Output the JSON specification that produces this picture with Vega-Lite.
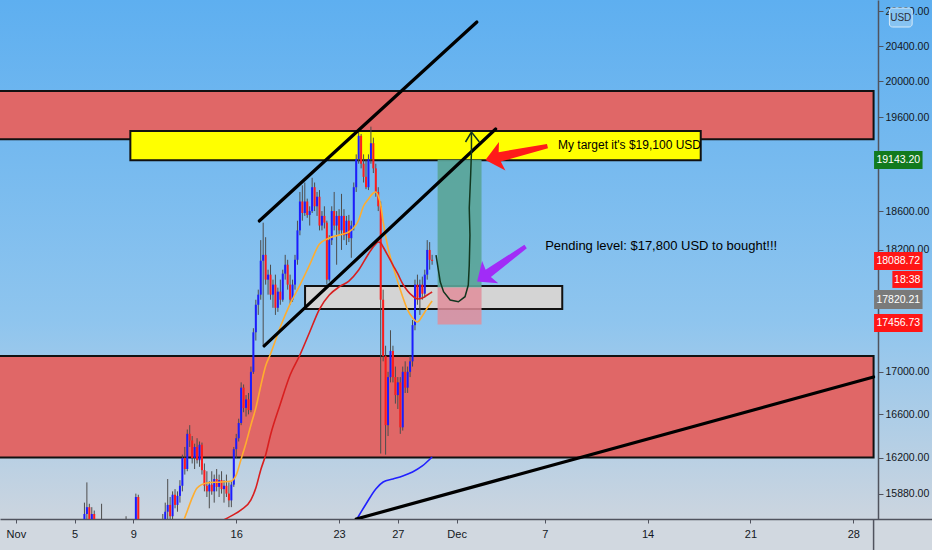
{
  "$schema": "https://vega.github.io/schema/vega-lite/v6.json",
  "width": 932,
  "height": 519,
  "autosize": {"type": "none"},
  "padding": {"left": 0, "top": 0, "right": 0, "bottom": 31},
  "background": "#d1d8e0",
  "config": {
    "font": "'Liberation Sans', Arial, sans-serif",
    "view": {"stroke": null, "fill": {"gradient": "linear", "x1": 0, "y1": 0, "x2": 0, "y2": 1, "stops": [{"offset": 0, "color": "#5eaff0"}, {"offset": 0.62, "color": "#8fc5ee"}, {"offset": 1, "color": "#ccd5df"}]}}
  },
  "datasets": {
    "zones": [
      {"t0": "2020-10-20T00:00Z", "t1": "2020-12-29T09:13Z", "p0": 19364, "p1": 19893},
      {"t0": "2020-10-20T00:00Z", "t1": "2020-12-29T09:13Z", "p0": 16204, "p1": 17151}
    ],
    "candles": [
      {"t": "2020-11-05T16:00Z", "o": 15620, "h": 15800, "l": 15500, "c": 15700},
      {"t": "2020-11-05T20:00Z", "o": 15700, "h": 15980, "l": 15600, "c": 15760},
      {"t": "2020-11-06T00:00Z", "o": 15760, "h": 15790, "l": 15620, "c": 15650},
      {"t": "2020-11-06T04:00Z", "o": 15650, "h": 15760, "l": 15580, "c": 15700},
      {"t": "2020-11-06T08:00Z", "o": 15700, "h": 15730, "l": 15500, "c": 15560},
      {"t": "2020-11-06T12:00Z", "o": 15560, "h": 15620, "l": 15400, "c": 15450},
      {"t": "2020-11-06T16:00Z", "o": 15450, "h": 15550, "l": 15300, "c": 15400},
      {"t": "2020-11-06T20:00Z", "o": 15400, "h": 15790, "l": 15350, "c": 15500},
      {"t": "2020-11-08T12:00Z", "o": 15450, "h": 15680, "l": 15400, "c": 15500},
      {"t": "2020-11-09T00:00Z", "o": 15500, "h": 15600, "l": 15400, "c": 15550},
      {"t": "2020-11-09T04:00Z", "o": 15550, "h": 15880, "l": 15450, "c": 15850},
      {"t": "2020-11-09T08:00Z", "o": 15850, "h": 15870, "l": 15500, "c": 15550},
      {"t": "2020-11-11T00:00Z", "o": 15550, "h": 15700, "l": 15500, "c": 15650},
      {"t": "2020-11-11T04:00Z", "o": 15650, "h": 15800, "l": 15600, "c": 15720},
      {"t": "2020-11-11T08:00Z", "o": 15720, "h": 16010, "l": 15650, "c": 15780},
      {"t": "2020-11-11T12:00Z", "o": 15780, "h": 15850, "l": 15600, "c": 15680},
      {"t": "2020-11-11T16:00Z", "o": 15680, "h": 15900, "l": 15650, "c": 15870},
      {"t": "2020-11-11T20:00Z", "o": 15870, "h": 15920, "l": 15750, "c": 15780},
      {"t": "2020-11-12T00:00Z", "o": 15780, "h": 15900, "l": 15720, "c": 15860},
      {"t": "2020-11-12T04:00Z", "o": 15860, "h": 16000, "l": 15800, "c": 15950},
      {"t": "2020-11-12T08:00Z", "o": 15950, "h": 16230, "l": 15900, "c": 16200},
      {"t": "2020-11-12T12:00Z", "o": 16200, "h": 16300, "l": 16050, "c": 16100},
      {"t": "2020-11-12T16:00Z", "o": 16100, "h": 16460, "l": 16080, "c": 16420},
      {"t": "2020-11-12T20:00Z", "o": 16420, "h": 16500, "l": 16300, "c": 16360},
      {"t": "2020-11-13T00:00Z", "o": 16360, "h": 16400, "l": 16150, "c": 16200},
      {"t": "2020-11-13T04:00Z", "o": 16200, "h": 16330, "l": 16100, "c": 16300},
      {"t": "2020-11-13T08:00Z", "o": 16300, "h": 16380, "l": 16150, "c": 16180},
      {"t": "2020-11-13T12:00Z", "o": 16180, "h": 16350, "l": 16120, "c": 16320},
      {"t": "2020-11-13T16:00Z", "o": 16320, "h": 16340, "l": 16050, "c": 16090},
      {"t": "2020-11-13T20:00Z", "o": 16090, "h": 16150, "l": 15900, "c": 15950},
      {"t": "2020-11-14T00:00Z", "o": 15950, "h": 16080, "l": 15850, "c": 15900},
      {"t": "2020-11-14T04:00Z", "o": 15900, "h": 15990, "l": 15750, "c": 15960},
      {"t": "2020-11-14T08:00Z", "o": 15960, "h": 16080, "l": 15870, "c": 15900},
      {"t": "2020-11-14T12:00Z", "o": 15900, "h": 16050, "l": 15800, "c": 16010},
      {"t": "2020-11-14T16:00Z", "o": 16010, "h": 16100, "l": 15900, "c": 15940},
      {"t": "2020-11-14T20:00Z", "o": 15940, "h": 16050, "l": 15850, "c": 16000},
      {"t": "2020-11-15T00:00Z", "o": 16000, "h": 16080, "l": 15880, "c": 15920},
      {"t": "2020-11-15T04:00Z", "o": 15920, "h": 16000, "l": 15800, "c": 15950},
      {"t": "2020-11-15T08:00Z", "o": 15950, "h": 16050, "l": 15850, "c": 15880},
      {"t": "2020-11-15T12:00Z", "o": 15880, "h": 15980, "l": 15760, "c": 15820},
      {"t": "2020-11-15T16:00Z", "o": 15820, "h": 15990, "l": 15760, "c": 15960},
      {"t": "2020-11-15T20:00Z", "o": 15960, "h": 16300, "l": 15940, "c": 16280},
      {"t": "2020-11-16T00:00Z", "o": 16280, "h": 16420, "l": 16200, "c": 16380},
      {"t": "2020-11-16T04:00Z", "o": 16380, "h": 16560, "l": 16350, "c": 16520},
      {"t": "2020-11-16T08:00Z", "o": 16520, "h": 16900, "l": 16500, "c": 16850},
      {"t": "2020-11-16T12:00Z", "o": 16850, "h": 16880, "l": 16620, "c": 16660},
      {"t": "2020-11-16T16:00Z", "o": 16660, "h": 16780, "l": 16580, "c": 16740},
      {"t": "2020-11-16T20:00Z", "o": 16740, "h": 16800, "l": 16600, "c": 16640},
      {"t": "2020-11-17T00:00Z", "o": 16640, "h": 17050, "l": 16620, "c": 17000},
      {"t": "2020-11-17T04:00Z", "o": 17000, "h": 17420, "l": 16980, "c": 17380},
      {"t": "2020-11-17T08:00Z", "o": 17380, "h": 17700, "l": 17300, "c": 17650},
      {"t": "2020-11-17T12:00Z", "o": 17650, "h": 17800, "l": 17550, "c": 17750},
      {"t": "2020-11-17T16:00Z", "o": 17750, "h": 18300, "l": 17700, "c": 18090},
      {"t": "2020-11-17T20:00Z", "o": 18090, "h": 18480, "l": 17250, "c": 18150},
      {"t": "2020-11-18T00:00Z", "o": 18150, "h": 18330, "l": 17850, "c": 17900},
      {"t": "2020-11-18T04:00Z", "o": 17900, "h": 18000, "l": 17750, "c": 17950},
      {"t": "2020-11-18T08:00Z", "o": 17950, "h": 18050, "l": 17700, "c": 17750},
      {"t": "2020-11-18T12:00Z", "o": 17750, "h": 17900, "l": 17620, "c": 17850},
      {"t": "2020-11-18T16:00Z", "o": 17850, "h": 17950, "l": 17550, "c": 17620},
      {"t": "2020-11-18T20:00Z", "o": 17620, "h": 17820, "l": 17580, "c": 17780},
      {"t": "2020-11-19T00:00Z", "o": 17780, "h": 17900, "l": 17650, "c": 17700},
      {"t": "2020-11-19T04:00Z", "o": 17700, "h": 18000, "l": 17680, "c": 17960},
      {"t": "2020-11-19T08:00Z", "o": 17960, "h": 18150, "l": 17900, "c": 18050},
      {"t": "2020-11-19T12:00Z", "o": 18050, "h": 18100, "l": 17800, "c": 17850},
      {"t": "2020-11-19T16:00Z", "o": 17850, "h": 17950, "l": 17650, "c": 17700},
      {"t": "2020-11-19T20:00Z", "o": 17700, "h": 17900, "l": 17680, "c": 17850},
      {"t": "2020-11-20T00:00Z", "o": 17850, "h": 18150, "l": 17800, "c": 18100},
      {"t": "2020-11-20T04:00Z", "o": 18100, "h": 18500, "l": 18050, "c": 18400},
      {"t": "2020-11-20T08:00Z", "o": 18400, "h": 18800, "l": 18350, "c": 18700},
      {"t": "2020-11-20T12:00Z", "o": 18700, "h": 18870, "l": 18500, "c": 18580},
      {"t": "2020-11-20T16:00Z", "o": 18580, "h": 18900, "l": 18550, "c": 18700},
      {"t": "2020-11-20T20:00Z", "o": 18700, "h": 18730, "l": 18530, "c": 18560},
      {"t": "2020-11-21T00:00Z", "o": 18560, "h": 18650, "l": 18450, "c": 18600},
      {"t": "2020-11-21T04:00Z", "o": 18600, "h": 18950, "l": 18580, "c": 18850},
      {"t": "2020-11-21T08:00Z", "o": 18850, "h": 18900, "l": 18600, "c": 18650},
      {"t": "2020-11-21T12:00Z", "o": 18650, "h": 18800, "l": 18550, "c": 18750},
      {"t": "2020-11-21T16:00Z", "o": 18750, "h": 18820, "l": 18400, "c": 18450},
      {"t": "2020-11-21T20:00Z", "o": 18450, "h": 18600, "l": 18400, "c": 18550},
      {"t": "2020-11-22T00:00Z", "o": 18550, "h": 18650, "l": 18420, "c": 18480},
      {"t": "2020-11-22T04:00Z", "o": 18480, "h": 18500, "l": 17850, "c": 17900},
      {"t": "2020-11-22T08:00Z", "o": 17900, "h": 18350, "l": 17880, "c": 18300},
      {"t": "2020-11-22T12:00Z", "o": 18300, "h": 18650, "l": 18250, "c": 18600},
      {"t": "2020-11-22T16:00Z", "o": 18600, "h": 18800, "l": 18400, "c": 18450},
      {"t": "2020-11-22T20:00Z", "o": 18450, "h": 18600, "l": 18050, "c": 18550},
      {"t": "2020-11-23T00:00Z", "o": 18550, "h": 18620, "l": 18350, "c": 18400},
      {"t": "2020-11-23T04:00Z", "o": 18400, "h": 18780, "l": 18200, "c": 18550},
      {"t": "2020-11-23T08:00Z", "o": 18550, "h": 18620, "l": 18300, "c": 18350},
      {"t": "2020-11-23T12:00Z", "o": 18350, "h": 18550, "l": 18250, "c": 18500},
      {"t": "2020-11-23T16:00Z", "o": 18500, "h": 18560, "l": 18280, "c": 18320},
      {"t": "2020-11-23T20:00Z", "o": 18320, "h": 18500, "l": 18120, "c": 18450},
      {"t": "2020-11-24T00:00Z", "o": 18450, "h": 18900, "l": 18400, "c": 18850},
      {"t": "2020-11-24T04:00Z", "o": 18850, "h": 19200, "l": 18800, "c": 19150},
      {"t": "2020-11-24T08:00Z", "o": 19150, "h": 19480, "l": 19100, "c": 19400},
      {"t": "2020-11-24T12:00Z", "o": 19400, "h": 19420, "l": 19050, "c": 19100},
      {"t": "2020-11-24T16:00Z", "o": 19100, "h": 19200, "l": 18900, "c": 18960},
      {"t": "2020-11-24T20:00Z", "o": 18960, "h": 19150, "l": 18830, "c": 18850},
      {"t": "2020-11-25T00:00Z", "o": 18850, "h": 19200, "l": 18820, "c": 19150},
      {"t": "2020-11-25T04:00Z", "o": 19150, "h": 19500, "l": 19100, "c": 19320},
      {"t": "2020-11-25T08:00Z", "o": 19320, "h": 19380, "l": 19000, "c": 19050},
      {"t": "2020-11-25T12:00Z", "o": 19050, "h": 19100, "l": 18750, "c": 18800},
      {"t": "2020-11-25T16:00Z", "o": 18800, "h": 18850, "l": 18600, "c": 18650},
      {"t": "2020-11-25T20:00Z", "o": 18650, "h": 18700, "l": 16240, "c": 17700},
      {"t": "2020-11-26T00:00Z", "o": 17700, "h": 17800, "l": 17100, "c": 17150},
      {"t": "2020-11-26T04:00Z", "o": 17150, "h": 17250, "l": 16230, "c": 16500},
      {"t": "2020-11-26T08:00Z", "o": 16500, "h": 17000, "l": 16400, "c": 16950},
      {"t": "2020-11-26T12:00Z", "o": 16950, "h": 17400, "l": 16900, "c": 17200},
      {"t": "2020-11-26T16:00Z", "o": 17200, "h": 17250, "l": 16900, "c": 16950},
      {"t": "2020-11-26T20:00Z", "o": 16950, "h": 17050, "l": 16700, "c": 16780},
      {"t": "2020-11-27T00:00Z", "o": 16780, "h": 16950, "l": 16650, "c": 16900},
      {"t": "2020-11-27T04:00Z", "o": 16900, "h": 16950, "l": 16420, "c": 16480},
      {"t": "2020-11-27T08:00Z", "o": 16480, "h": 17050, "l": 16450, "c": 17000},
      {"t": "2020-11-27T12:00Z", "o": 17000, "h": 17100, "l": 16800, "c": 16850},
      {"t": "2020-11-27T16:00Z", "o": 16850, "h": 17050, "l": 16800, "c": 17000},
      {"t": "2020-11-27T20:00Z", "o": 17000, "h": 17150, "l": 16950, "c": 17100},
      {"t": "2020-11-28T00:00Z", "o": 17100, "h": 17500, "l": 17050, "c": 17450},
      {"t": "2020-11-28T04:00Z", "o": 17450, "h": 17900, "l": 17400, "c": 17850},
      {"t": "2020-11-28T08:00Z", "o": 17850, "h": 17950, "l": 17650, "c": 17720},
      {"t": "2020-11-28T12:00Z", "o": 17720, "h": 17900, "l": 17550, "c": 17850},
      {"t": "2020-11-28T16:00Z", "o": 17850, "h": 17930, "l": 17700, "c": 17760},
      {"t": "2020-11-28T20:00Z", "o": 17760, "h": 18000, "l": 17720, "c": 17950},
      {"t": "2020-11-29T00:00Z", "o": 17950, "h": 18300, "l": 17900, "c": 18200},
      {"t": "2020-11-29T04:00Z", "o": 18200, "h": 18280, "l": 18000, "c": 18100},
      {"t": "2020-11-29T08:00Z", "o": 18100, "h": 18150, "l": 18050, "c": 18088.72}
    ],
    "ma": [
      {"ma": "fast", "t": "2020-11-12T08:00Z", "p": 15612},
      {"ma": "fast", "t": "2020-11-12T16:00Z", "p": 15727},
      {"ma": "fast", "t": "2020-11-13T00:00Z", "p": 15842},
      {"ma": "fast", "t": "2020-11-13T08:00Z", "p": 15930},
      {"ma": "fast", "t": "2020-11-14T00:00Z", "p": 15975},
      {"ma": "fast", "t": "2020-11-15T00:00Z", "p": 15984},
      {"ma": "fast", "t": "2020-11-15T16:00Z", "p": 15993},
      {"ma": "fast", "t": "2020-11-16T00:00Z", "p": 16047},
      {"ma": "fast", "t": "2020-11-16T08:00Z", "p": 16191},
      {"ma": "fast", "t": "2020-11-16T16:00Z", "p": 16337},
      {"ma": "fast", "t": "2020-11-17T00:00Z", "p": 16502},
      {"ma": "fast", "t": "2020-11-17T08:00Z", "p": 16660},
      {"ma": "fast", "t": "2020-11-17T16:00Z", "p": 16866},
      {"ma": "fast", "t": "2020-11-18T00:00Z", "p": 17056},
      {"ma": "fast", "t": "2020-11-18T08:00Z", "p": 17171},
      {"ma": "fast", "t": "2020-11-19T00:00Z", "p": 17432},
      {"ma": "fast", "t": "2020-11-19T16:00Z", "p": 17658},
      {"ma": "fast", "t": "2020-11-20T08:00Z", "p": 17846},
      {"ma": "fast", "t": "2020-11-21T00:00Z", "p": 18050},
      {"ma": "fast", "t": "2020-11-21T16:00Z", "p": 18260},
      {"ma": "fast", "t": "2020-11-22T08:00Z", "p": 18322},
      {"ma": "fast", "t": "2020-11-23T00:00Z", "p": 18353},
      {"ma": "fast", "t": "2020-11-23T16:00Z", "p": 18384},
      {"ma": "fast", "t": "2020-11-24T08:00Z", "p": 18507},
      {"ma": "fast", "t": "2020-11-24T16:00Z", "p": 18653},
      {"ma": "fast", "t": "2020-11-25T00:00Z", "p": 18726},
      {"ma": "fast", "t": "2020-11-25T08:00Z", "p": 18789},
      {"ma": "fast", "t": "2020-11-25T12:00Z", "p": 18800},
      {"ma": "fast", "t": "2020-11-25T16:00Z", "p": 18758},
      {"ma": "fast", "t": "2020-11-25T20:00Z", "p": 18663},
      {"ma": "fast", "t": "2020-11-26T00:00Z", "p": 18487},
      {"ma": "fast", "t": "2020-11-26T08:00Z", "p": 18220},
      {"ma": "fast", "t": "2020-11-26T16:00Z", "p": 18037},
      {"ma": "fast", "t": "2020-11-27T00:00Z", "p": 17876},
      {"ma": "fast", "t": "2020-11-27T08:00Z", "p": 17727},
      {"ma": "fast", "t": "2020-11-27T16:00Z", "p": 17599},
      {"ma": "fast", "t": "2020-11-28T00:00Z", "p": 17520},
      {"ma": "fast", "t": "2020-11-28T08:00Z", "p": 17481},
      {"ma": "fast", "t": "2020-11-28T16:00Z", "p": 17540},
      {"ma": "fast", "t": "2020-11-29T00:00Z", "p": 17618},
      {"ma": "fast", "t": "2020-11-29T08:00Z", "p": 17687},
      {"ma": "slow", "t": "2020-11-15T00:00Z", "p": 15638},
      {"ma": "slow", "t": "2020-11-15T16:00Z", "p": 15683},
      {"ma": "slow", "t": "2020-11-16T08:00Z", "p": 15736},
      {"ma": "slow", "t": "2020-11-17T00:00Z", "p": 15824},
      {"ma": "slow", "t": "2020-11-17T08:00Z", "p": 15930},
      {"ma": "slow", "t": "2020-11-17T16:00Z", "p": 16092},
      {"ma": "slow", "t": "2020-11-18T00:00Z", "p": 16227},
      {"ma": "slow", "t": "2020-11-18T08:00Z", "p": 16410},
      {"ma": "slow", "t": "2020-11-19T00:00Z", "p": 16697},
      {"ma": "slow", "t": "2020-11-19T16:00Z", "p": 16970},
      {"ma": "slow", "t": "2020-11-20T08:00Z", "p": 17161},
      {"ma": "slow", "t": "2020-11-21T00:00Z", "p": 17383},
      {"ma": "slow", "t": "2020-11-21T16:00Z", "p": 17608},
      {"ma": "slow", "t": "2020-11-22T08:00Z", "p": 17747},
      {"ma": "slow", "t": "2020-11-23T00:00Z", "p": 17827},
      {"ma": "slow", "t": "2020-11-23T16:00Z", "p": 17886},
      {"ma": "slow", "t": "2020-11-24T08:00Z", "p": 17997},
      {"ma": "slow", "t": "2020-11-25T00:00Z", "p": 18159},
      {"ma": "slow", "t": "2020-11-25T12:00Z", "p": 18261},
      {"ma": "slow", "t": "2020-11-25T16:00Z", "p": 18281},
      {"ma": "slow", "t": "2020-11-25T20:00Z", "p": 18271},
      {"ma": "slow", "t": "2020-11-26T00:00Z", "p": 18230},
      {"ma": "slow", "t": "2020-11-26T08:00Z", "p": 18139},
      {"ma": "slow", "t": "2020-11-26T16:00Z", "p": 18047},
      {"ma": "slow", "t": "2020-11-27T00:00Z", "p": 17957},
      {"ma": "slow", "t": "2020-11-27T08:00Z", "p": 17857},
      {"ma": "slow", "t": "2020-11-27T16:00Z", "p": 17787},
      {"ma": "slow", "t": "2020-11-28T00:00Z", "p": 17737},
      {"ma": "slow", "t": "2020-11-28T08:00Z", "p": 17707},
      {"ma": "slow", "t": "2020-11-28T16:00Z", "p": 17717},
      {"ma": "slow", "t": "2020-11-29T00:00Z", "p": 17747},
      {"ma": "slow", "t": "2020-11-29T08:00Z", "p": 17777},
      {"ma": "long", "t": "2020-11-24T04:00Z", "p": 15647},
      {"ma": "long", "t": "2020-11-24T20:00Z", "p": 15788},
      {"ma": "long", "t": "2020-11-25T12:00Z", "p": 15922},
      {"ma": "long", "t": "2020-11-26T00:00Z", "p": 15984},
      {"ma": "long", "t": "2020-11-26T16:00Z", "p": 16011},
      {"ma": "long", "t": "2020-11-27T08:00Z", "p": 16038},
      {"ma": "long", "t": "2020-11-28T00:00Z", "p": 16074},
      {"ma": "long", "t": "2020-11-28T16:00Z", "p": 16128},
      {"ma": "long", "t": "2020-11-29T08:00Z", "p": 16209}
    ],
    "trend": [
      {"id": "channel top", "t": "2020-11-17T13:35Z", "p": 18497},
      {"id": "channel top", "t": "2020-12-02T09:07Z", "p": 20676},
      {"id": "channel bottom", "t": "2020-11-17T21:39Z", "p": 17248},
      {"id": "channel bottom", "t": "2020-12-03T15:50Z", "p": 19474},
      {"id": "support", "t": "2020-11-24T03:58Z", "p": 15656},
      {"id": "support", "t": "2020-12-29T09:13Z", "p": 16951}
    ],
    "sketch": [
      {"seg": "path", "i": 1, "t": "2020-11-29T14:23Z", "p": 18148},
      {"seg": "path", "i": 2, "t": "2020-11-29T16:58Z", "p": 18047},
      {"seg": "path", "i": 3, "t": "2020-11-29T21:20Z", "p": 17876},
      {"seg": "path", "i": 4, "t": "2020-11-30T02:40Z", "p": 17780},
      {"seg": "path", "i": 5, "t": "2020-11-30T13:29Z", "p": 17697},
      {"seg": "path", "i": 6, "t": "2020-12-01T02:54Z", "p": 17680},
      {"seg": "path", "i": 7, "t": "2020-12-01T13:44Z", "p": 17730},
      {"seg": "path", "i": 8, "t": "2020-12-01T19:05Z", "p": 17846},
      {"seg": "path", "i": 9, "t": "2020-12-01T20:41Z", "p": 18047},
      {"seg": "path", "i": 10, "t": "2020-12-01T21:49Z", "p": 18353},
      {"seg": "path", "i": 11, "t": "2020-12-01T20:41Z", "p": 18632},
      {"seg": "path", "i": 12, "t": "2020-12-01T22:57Z", "p": 18979},
      {"seg": "path", "i": 13, "t": "2020-12-02T00:15Z", "p": 19225},
      {"seg": "path", "i": 14, "t": "2020-12-02T00:15Z", "p": 19430},
      {"seg": "head", "i": 1, "t": "2020-12-01T14:33Z", "p": 19333},
      {"seg": "head", "i": 2, "t": "2020-12-02T00:15Z", "p": 19441},
      {"seg": "head", "i": 3, "t": "2020-12-02T13:11Z", "p": 19333}
    ],
    "tags": [
      {"kind": "target", "t0": "2020-12-29T10:00Z", "t1": "2021-01-01T17:12Z", "p0": 19043, "p1": 19236, "tt": "2020-12-31T01:36Z", "p": 19143.2, "label": "19143.20"},
      {"kind": "last", "t0": "2020-12-29T10:00Z", "t1": "2021-01-01T17:12Z", "p0": 17997, "p1": 18179, "tt": "2020-12-31T01:36Z", "p": 18088.72, "label": "18088.72"},
      {"kind": "timer", "t0": "2020-12-30T15:55Z", "t1": "2021-01-01T17:12Z", "p0": 17817, "p1": 17987, "tt": "2020-12-31T16:09Z", "p": 17901, "label": "18:38"},
      {"kind": "entry", "t0": "2020-12-29T10:00Z", "t1": "2021-01-01T17:12Z", "p0": 17608, "p1": 17797, "tt": "2020-12-31T01:36Z", "p": 17702, "label": "17820.21"},
      {"kind": "stop", "t0": "2020-12-29T10:00Z", "t1": "2021-01-01T17:12Z", "p0": 17383, "p1": 17559, "tt": "2020-12-31T01:36Z", "p": 17471, "label": "17456.73"}
    ]
  },
  "layer": [
    {
      "data": {"name": "zones"},
      "mark": {"type": "rect", "fill": "#e06767", "stroke": "#111111", "strokeWidth": 2, "clip": true},
      "encoding": {
        "x": {
          "field": "t0", "type": "temporal",
          "scale": {"type": "utc", "nice": false, "domain": [{"year": 2020, "month": 10, "date": 31, "hours": 6, "minutes": 13, "utc": true}, {"year": 2021, "month": 1, "date": 2, "hours": 0, "minutes": 29, "utc": true}]},
          "axis": {
            "orient": "bottom", "title": null, "grid": false,
            "values": [
              {"year": 2020, "month": 11, "date": 1, "utc": true},
              {"year": 2020, "month": 11, "date": 5, "utc": true},
              {"year": 2020, "month": 11, "date": 9, "utc": true},
              {"year": 2020, "month": 11, "date": 16, "utc": true},
              {"year": 2020, "month": 11, "date": 23, "utc": true},
              {"year": 2020, "month": 11, "date": 27, "utc": true},
              {"year": 2020, "month": 12, "date": 1, "utc": true},
              {"year": 2020, "month": 12, "date": 7, "utc": true},
              {"year": 2020, "month": 12, "date": 14, "utc": true},
              {"year": 2020, "month": 12, "date": 21, "utc": true},
              {"year": 2020, "month": 12, "date": 28, "utc": true}
            ],
            "labelExpr": "utcdate(datum.value) == 1 ? utcFormat(datum.value, '%b') : utcFormat(datum.value, '%-d')",
            "labelFontSize": 11, "labelColor": "#131722",
            "labelPadding": 5, "labelFlush": false, "labelOverlap": false,
            "tickSize": 4, "tickColor": "#50535e", "domainColor": "#50535e", "domainWidth": 1.5
          }
        },
        "x2": {"field": "t1"},
        "y": {
          "field": "p0", "type": "quantitative",
          "scale": {"type": "log", "domain": [15656, 20932], "nice": false},
          "axis": {
            "orient": "right", "offset": -54, "title": null, "grid": false,
            "values": [20800, 20400, 20000, 19600, 18600, 18200, 17000, 16600, 16200, 15880],
            "format": ".2f",
            "labelFontSize": 10.5, "labelColor": "#131722",
            "labelPadding": 2, "tickSize": 5, "tickColor": "#50535e", "domainColor": "#50535e", "domainWidth": 1.5
          }
        },
        "y2": {"field": "p1"}
      }
    },
    {
      "data": {"values": [{"t0": "2020-11-20T16:25Z", "t1": "2020-12-08T04:36Z", "p0": 17608, "p1": 17836}]},
      "mark": {"type": "rect", "fill": "#d4d4d4", "stroke": "#111111", "strokeWidth": 2, "clip": true},
      "encoding": {"x": {"field": "t0", "type": "temporal"}, "x2": {"field": "t1"}, "y": {"field": "p0", "type": "quantitative"}, "y2": {"field": "p1"}}
    },
    {
      "data": {"values": [{"t0": "2020-11-08T19:00Z", "t1": "2020-12-17T14:50Z", "p0": 19136, "p1": 19452}]},
      "mark": {"type": "rect", "fill": "#ffff00", "stroke": "#111111", "strokeWidth": 2, "clip": true},
      "encoding": {"x": {"field": "t0", "type": "temporal"}, "x2": {"field": "t1"}, "y": {"field": "p0", "type": "quantitative"}, "y2": {"field": "p1"}}
    },
    {
      "data": {"values": [{"t0": "2020-11-29T16:58Z", "t1": "2020-12-02T16:44Z", "p0": 17820.21, "p1": 19143.2}]},
      "mark": {"type": "rect", "fill": "#5aa598", "opacity": 0.92, "clip": true},
      "encoding": {"x": {"field": "t0", "type": "temporal"}, "x2": {"field": "t1"}, "y": {"field": "p0", "type": "quantitative"}, "y2": {"field": "p1"}}
    },
    {
      "data": {"values": [{"t0": "2020-11-29T16:58Z", "t1": "2020-12-02T16:44Z", "p0": 17456.73, "p1": 17820.21}]},
      "mark": {"type": "rect", "fill": "#e08d9a", "opacity": 0.85, "clip": true},
      "encoding": {"x": {"field": "t0", "type": "temporal"}, "x2": {"field": "t1"}, "y": {"field": "p0", "type": "quantitative"}, "y2": {"field": "p1"}}
    },
    {
      "data": {"name": "candles"},
      "mark": {"type": "rule", "color": "#4d4d4d", "strokeWidth": 1, "clip": true},
      "encoding": {"x": {"field": "t", "type": "temporal"}, "y": {"field": "l", "type": "quantitative"}, "y2": {"field": "h"}}
    },
    {
      "data": {"name": "candles"},
      "mark": {"type": "bar", "size": 2, "clip": true},
      "encoding": {
        "x": {"field": "t", "type": "temporal"},
        "y": {"field": "o", "type": "quantitative"},
        "y2": {"field": "c"},
        "color": {"condition": {"test": "datum.c >= datum.o", "value": "#1c1cff"}, "value": "#ff1c1c"}
      }
    },
    {
      "data": {"name": "ma"},
      "mark": {"type": "line", "strokeWidth": 1.6, "clip": true, "interpolate": "monotone"},
      "encoding": {
        "x": {"field": "t", "type": "temporal"},
        "y": {"field": "p", "type": "quantitative"},
        "stroke": {"field": "ma", "type": "nominal", "legend": null, "scale": {"domain": ["fast", "slow", "long"], "range": ["#ffad2e", "#d81f1f", "#2121ff"]}}
      }
    },
    {
      "data": {"name": "trend"},
      "mark": {"type": "line", "color": "#000000", "strokeWidth": 3.2, "clip": true, "strokeCap": "round"},
      "encoding": {
        "x": {"field": "t", "type": "temporal"},
        "y": {"field": "p", "type": "quantitative"},
        "detail": {"field": "id"}
      }
    },
    {
      "data": {"name": "sketch"},
      "mark": {"type": "line", "color": "#12361f", "strokeWidth": 1.5, "clip": true, "interpolate": "linear"},
      "encoding": {
        "x": {"field": "t", "type": "temporal"},
        "y": {"field": "p", "type": "quantitative"},
        "detail": {"field": "seg"},
        "order": {"field": "i", "type": "quantitative"}
      }
    },
    {
      "data": {"values": [{"t": "2020-12-05T01:47Z", "p": 19214}]},
      "mark": {"type": "point", "shape": "M1,0 L0.46,-0.46 L0.54,-0.15 L-1,-0.07 L-1,0.07 L0.54,0.15 L0.46,0.46 Z", "filled": true, "opacity": 1, "size": 4045, "angle": 167.3, "color": "#ff1a1a", "strokeWidth": 0},
      "encoding": {"x": {"field": "t", "type": "temporal"}, "y": {"field": "p", "type": "quantitative"}}
    },
    {
      "data": {"values": [{"t": "2020-12-04T01:07Z", "p": 18057}]},
      "mark": {"type": "point", "shape": "M1,0 L0.46,-0.46 L0.54,-0.15 L-1,-0.07 L-1,0.07 L0.54,0.15 L0.46,0.46 Z", "filled": true, "opacity": 1, "size": 3576, "angle": 144.2, "color": "#a12cf7", "strokeWidth": 0},
      "encoding": {"x": {"field": "t", "type": "temporal"}, "y": {"field": "p", "type": "quantitative"}}
    },
    {
      "data": {"values": [{"t": "2020-12-07T21:36Z", "p": 19300, "label": "My target it's $19,100 USD"}]},
      "mark": {"type": "text", "align": "left", "baseline": "middle", "fontSize": 12, "color": "#000000"},
      "encoding": {"x": {"field": "t", "type": "temporal"}, "y": {"field": "p", "type": "quantitative"}, "text": {"field": "label"}}
    },
    {
      "data": {"values": [{"t": "2020-12-07T00:39Z", "p": 18245, "label": "Pending level: $17,800 USD to bought!!!"}]},
      "mark": {"type": "text", "align": "left", "baseline": "middle", "fontSize": 13, "color": "#000000"},
      "encoding": {"x": {"field": "t", "type": "temporal"}, "y": {"field": "p", "type": "quantitative"}, "text": {"field": "label"}}
    },
    {
      "data": {"name": "tags"},
      "mark": {"type": "rect"},
      "encoding": {
        "x": {"field": "t0", "type": "temporal"}, "x2": {"field": "t1"},
        "y": {"field": "p0", "type": "quantitative"}, "y2": {"field": "p1"},
        "fill": {"field": "kind", "type": "nominal", "legend": null, "scale": {"domain": ["target", "last", "timer", "entry", "stop"], "range": ["#127a1e", "#ff1616", "#ff1616", "#7a7a7a", "#ff1616"]}}
      }
    },
    {
      "data": {"name": "tags"},
      "mark": {"type": "text", "align": "center", "baseline": "middle", "fontSize": 10.5, "color": "#ffffff"},
      "encoding": {"x": {"field": "tt", "type": "temporal"}, "y": {"field": "p", "type": "quantitative"}, "text": {"field": "label"}}
    },
    {
      "data": {"values": [{"t0": "2020-12-30T11:04Z", "t1": "2021-01-01T00:14Z", "p0": 20618, "p1": 20838}]},
      "mark": {"type": "rect", "fill": "#86c3f2", "stroke": "#d4e9f9", "strokeWidth": 1, "cornerRadius": 3},
      "encoding": {"x": {"field": "t0", "type": "temporal"}, "x2": {"field": "t1"}, "y": {"field": "p0", "type": "quantitative"}, "y2": {"field": "p1"}}
    },
    {
      "data": {"values": [{"t": "2020-12-31T05:39Z", "p": 20727, "label": "USD"}]},
      "mark": {"type": "text", "align": "center", "baseline": "middle", "fontSize": 10, "color": "#2a2e39"},
      "encoding": {"x": {"field": "t", "type": "temporal"}, "y": {"field": "p", "type": "quantitative"}, "text": {"field": "label"}}
    },
    {
      "data": {"values": [{"t": "2020-12-29T09:13Z", "p0": 15387, "p1": 15656}]},
      "mark": {"type": "rule", "color": "#50535e", "strokeWidth": 1.5, "clip": false},
      "encoding": {"x": {"field": "t", "type": "temporal"}, "y": {"field": "p0", "type": "quantitative"}, "y2": {"field": "p1"}}
    }
  ]
}
